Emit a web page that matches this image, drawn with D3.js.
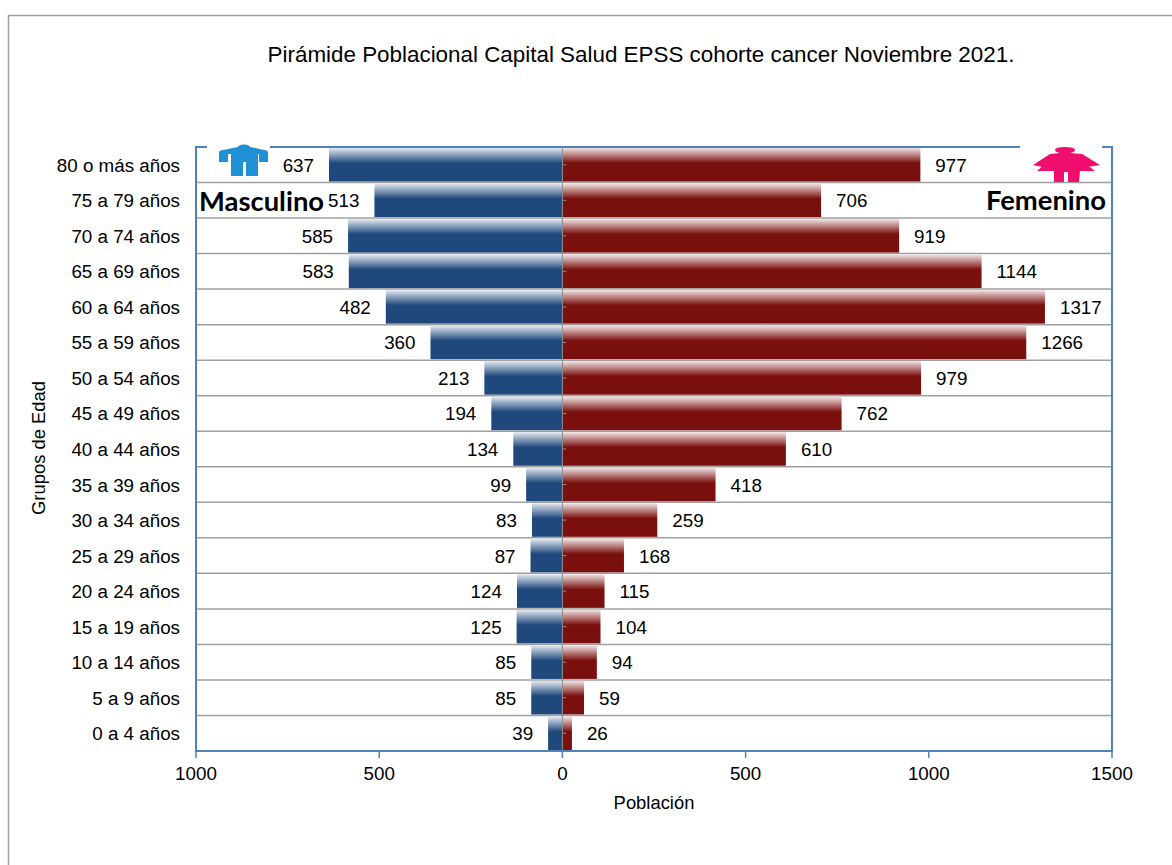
<!DOCTYPE html>
<html>
<head>
<meta charset="utf-8">
<title>Pirámide Poblacional</title>
<style>
  html, body { margin: 0; padding: 0; background: #fff; }
  svg { display: block; }
  text { font-family: "Liberation Sans", Arial, sans-serif; fill: #000; }
  .tick-label { font-size: 18.8px; }
  .data-label { font-size: 18.8px; }
  .axis-title { font-size: 18.4px; }
  .sex-label { font-family: Lato, sans-serif; font-size: 27.4px; font-weight: bold; }
</style>
</head>
<body>
<div id="chart"></div>
<script src="https://d3js.org/d3.v7.min.js"></script>
<script>
// age groups, top to bottom
var groups = ["80 o más años", "75 a 79 años", "70 a 74 años", "65 a 69 años", "60 a 64 años",
  "55 a 59 años", "50 a 54 años", "45 a 49 años", "40 a 44 años", "35 a 39 años", "30 a 34 años",
  "25 a 29 años", "20 a 24 años", "15 a 19 años", "10 a 14 años", "5 a 9 años", "0 a 4 años"];
var masculino = [637, 513, 585, 583, 482, 360, 213, 194, 134, 99, 83, 87, 124, 125, 85, 85, 39];
var femenino = [977, 706, 919, 1144, 1317, 1266, 979, 762, 610, 418, 259, 168, 115, 104, 94, 59, 26];
var xTicks = [-1000, -500, 0, 500, 1000, 1500];

var width = 1172, height = 865;
var left = 196, right = 1112, top_ = 147, bottom = 751;

var svg = d3.select("#chart").append("svg").attr("width", width).attr("height", height);

// bar gradients
var defs = svg.append("defs");
function gradient(id, light, dark) {
  var g = defs.append("linearGradient").attr("id", id).attr("x1", 0).attr("x2", 0).attr("y1", 0).attr("y2", 1);
  g.append("stop").attr("offset", "0%").attr("stop-color", light);
  g.append("stop").attr("offset", "45%").attr("stop-color", dark);
  g.append("stop").attr("offset", "100%").attr("stop-color", dark);
}
gradient("gradM", "#e4e9f1", "#1f497d");
gradient("gradF", "#f2e3e3", "#7a100e");

// outer frame
svg.append("path")
  .attr("d", "M8.5," + height + "V15.5H" + width)
  .attr("fill", "none").attr("stroke", "#a0a0a0").attr("stroke-width", 1.5);

var x = d3.scaleLinear().domain([-1000, 1500]).range([left, right]);
var y = d3.scaleBand().domain(groups).range([top_, bottom]).paddingInner(0).paddingOuter(0);

// row grid
svg.append("g").selectAll("line").data(groups.slice(1)).join("line")
  .attr("x1", left).attr("x2", right)
  .attr("y1", function(d) { return y(d); }).attr("y2", function(d) { return y(d); })
  .attr("stroke", "#a0a0a0").attr("stroke-width", 1.5);

// bars
svg.append("g").selectAll("rect").data(masculino).join("rect")
  .attr("x", function(d) { return x(-d); })
  .attr("y", function(d, i) { return y(groups[i]) + 1; })
  .attr("width", function(d) { return x(0) - x(-d); })
  .attr("height", y.bandwidth() - 2)
  .attr("fill", "url(#gradM)");

svg.append("g").selectAll("rect").data(femenino).join("rect")
  .attr("x", x(0))
  .attr("y", function(d, i) { return y(groups[i]) + 1; })
  .attr("width", function(d) { return x(d) - x(0); })
  .attr("height", y.bandwidth() - 2)
  .attr("fill", "url(#gradF)");

// center axis with ticks at band centres
svg.append("line")
  .attr("x1", x(0)).attr("x2", x(0)).attr("y1", top_).attr("y2", bottom + 7)
  .attr("stroke", "#8c8c8c").attr("stroke-width", 1);
svg.append("g").selectAll("line").data(groups).join("line")
  .attr("x1", x(0)).attr("x2", x(0) + 4)
  .attr("y1", function(d) { return y(d) + y.bandwidth() / 2; })
  .attr("y2", function(d) { return y(d) + y.bandwidth() / 2; })
  .attr("stroke", "#8c8c8c");

// blue plot border
svg.append("rect")
  .attr("x", left).attr("y", top_).attr("width", right - left).attr("height", bottom - top_)
  .attr("fill", "none").attr("stroke", "#4f81bd").attr("stroke-width", 2);

// x axis ticks
svg.append("g").selectAll("line").data(xTicks).join("line")
  .attr("x1", function(d) { return x(d); }).attr("x2", function(d) { return x(d); })
  .attr("y1", bottom).attr("y2", bottom + 7)
  .attr("stroke", "#4f81bd").attr("stroke-width", 1.5);

svg.append("g").selectAll("text").data(xTicks).join("text")
  .attr("class", "tick-label")
  .attr("x", function(d) { return x(d); })
  .attr("y", 780)
  .attr("text-anchor", "middle")
  .text(function(d) { return Math.abs(d); });

// y labels
svg.append("g").selectAll("text").data(groups).join("text")
  .attr("class", "tick-label")
  .attr("x", 180)
  .attr("y", function(d) { return y(d) + y.bandwidth() / 2 + 1; })
  .attr("dy", "0.32em")
  .attr("text-anchor", "end")
  .text(function(d) { return d; });

// data labels
svg.append("g").selectAll("text").data(masculino).join("text")
  .attr("class", "data-label")
  .attr("x", function(d) { return x(-d) - 15; })
  .attr("y", function(d, i) { return y(groups[i]) + y.bandwidth() / 2 + 1; })
  .attr("dy", "0.32em")
  .attr("text-anchor", "end")
  .text(function(d) { return d; });

svg.append("g").selectAll("text").data(femenino).join("text")
  .attr("class", "data-label")
  .attr("x", function(d) { return x(d) + 15; })
  .attr("y", function(d, i) { return y(groups[i]) + y.bandwidth() / 2 + 1; })
  .attr("dy", "0.32em")
  .text(function(d) { return d; });

// titles
svg.append("text")
  .attr("x", 641).attr("y", 62).attr("text-anchor", "middle")
  .style("font-size", "22.4px")
  .text("Pirámide Poblacional Capital Salud EPSS cohorte cancer Noviembre 2021.");

svg.append("text").attr("class", "axis-title")
  .attr("x", 654).attr("y", 809).attr("text-anchor", "middle").text("Población");

svg.append("text").attr("class", "axis-title")
  .attr("transform", "translate(45,448) rotate(-90)")
  .attr("text-anchor", "middle").text("Grupos de Edad");

// pasted icons and sex captions
svg.append("rect").attr("x", 207).attr("y", 144).attr("width", 63).attr("height", 37).attr("fill", "#fff");
svg.append("path").attr("fill", "#1f8fd6")
  .attr("d", "M219,153 Q219,150 223,150 L238,147 Q238,145 244,144.500 Q250,145 250,147 L264,150 Q268,150 268,153 L268,162 L259,162 L259,154 L258,154 L258,176 L246,176 L246,162 L243,162 L243,176 L231,176 L231,154 L228,154 L228,162 L219,162 Z");

svg.append("rect").attr("x", 1020).attr("y", 144).attr("width", 82).attr("height", 37).attr("fill", "#fff");
svg.append("path").attr("fill", "#f00f6e")
  .attr("d", "M1055,150 Q1055,147 1065,147 Q1075,147 1075,150 Q1075,152 1070,153 L1082,154 L1100,165 L1088,167 L1078,158 L1095,171 L1080,171 L1079,182 L1068,182 L1068,172 L1064,172 L1064,182 L1054,182 L1054,171 L1037,171 L1052,158 L1042,167 L1033,165 L1050,154 L1060,153 Q1055,152 1055,150 Z");

svg.append("text").attr("class", "sex-label").attr("x", 199).attr("y", 211).text("Masculino");
svg.append("text").attr("class", "sex-label").attr("x", 1106).attr("y", 210).attr("text-anchor", "end").text("Femenino");
</script>
</body>
</html>
